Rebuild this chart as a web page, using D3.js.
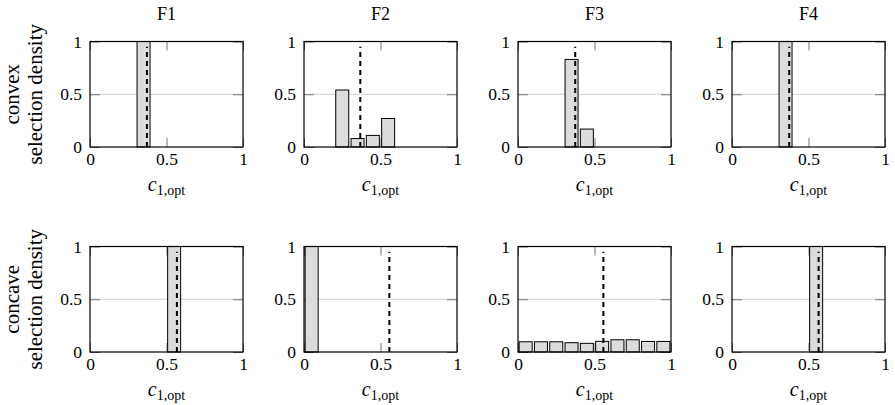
<!DOCTYPE html>
<html lang="en">
<head>
  <meta charset="UTF-8">
  <title>Selection density of c1,opt</title>
  <script src="https://d3js.org/d3.v7.min.js"></script>
  <style>
    body {
      margin: 0;
      background: #fff;
    }
    svg text {
      font-family: "Liberation Serif", "Times New Roman", serif;
      fill: #000;
    }
    .bar {
      fill: #dcdcdc;
      stroke: #000;
      stroke-width: 1;
    }
    .grid {
      stroke: #cfcfcf;
      stroke-width: 1;
    }
    .opt-line {
      stroke: #000;
      stroke-width: 2;
      stroke-dasharray: 5 4;
    }
    .frame {
      fill: none;
      stroke: #000;
      stroke-width: 1.2;
    }
    .tick line {
      stroke: #777;
    }
    .domain {
      display: none;
    }
  </style>
</head>
<body>
  <svg width="895" height="405"></svg>

  <script>
    // Spalten / Zeilen
    const functions = ["F1", "F2", "F3", "F4"];
    const shapes = ["convex", "concave"];

    // Histogramm-Klassen (Mitte), Breite 0.1
    const binCenters = [0.05, 0.15, 0.25, 0.35, 0.45, 0.55, 0.65, 0.75, 0.85, 0.95];

    // convex: Dichte je Klasse
    const convexF1 = [0, 0, 0, 1, 0, 0, 0, 0, 0, 0];
    const convexF2 = [0, 0, 0.54, 0.08, 0.11, 0.27, 0, 0, 0, 0];
    const convexF3 = [0, 0, 0, 0.83, 0.17, 0, 0, 0, 0, 0];
    const convexF4 = [0, 0, 0, 1, 0, 0, 0, 0, 0, 0];

    // concave: Dichte je Klasse
    const concaveF1 = [0, 0, 0, 0, 0, 1, 0, 0, 0, 0];
    const concaveF2 = [1, 0, 0, 0, 0, 0, 0, 0, 0, 0];
    const concaveF3 = [0.097, 0.097, 0.097, 0.088, 0.082, 0.101, 0.116, 0.116, 0.1, 0.1];
    const concaveF4 = [0, 0, 0, 0, 0, 1, 0, 0, 0, 0];

    // gestrichelte Linie: c1,opt
    const convexOpt = [0.372, 0.368, 0.374, 0.374];
    const concaveOpt = [0.568, 0.558, 0.558, 0.566];

    const xTicks = [0, 0.5, 1];
    const yTicks = [0, 0.5, 1];
    const barWidth = 0.085;
    const optTop = 0.95;

    const series = {
      convex: [convexF1, convexF2, convexF3, convexF4],
      concave: [concaveF1, concaveF2, concaveF3, concaveF4]
    };
    const opts = { convex: convexOpt, concave: concaveOpt };

    const svg = d3.select("svg");
    const panelW = 153, panelH = 105.5;
    const lefts = [90, 304, 518, 732];
    const tops = [41.5, 246.5];
    const tickFont = "17.5px";

    const x = d3.scaleLinear().domain([0, 1]).range([0, panelW]);
    const y = d3.scaleLinear().domain([0, 1]).range([panelH, 0]);
    const fmt = d => d === 0.5 ? "0.5" : String(d);

    // Spaltentitel
    functions.forEach((f, j) => {
      svg.append("text")
        .attr("x", lefts[j] + panelW / 2)
        .attr("y", 20)
        .attr("text-anchor", "middle")
        .style("font-size", "18px")
        .text(f);
    });

    shapes.forEach((s, i) => {
      // y-Beschriftung
      const cy = tops[i] + panelH / 2;
      const yl = svg.append("text")
        .attr("transform", `translate(0,${cy}) rotate(-90)`)
        .attr("text-anchor", "middle")
        .style("font-size", "21px");
      yl.append("tspan").attr("x", 0).attr("y", 19).text(s);
      yl.append("tspan").attr("x", 0).attr("y", 42).text("selection density");

      functions.forEach((f, j) => {
        const g = svg.append("g")
          .attr("transform", `translate(${lefts[j]},${tops[i]})`);

        // Gitterlinie 0.5
        g.append("line")
          .attr("class", "grid")
          .attr("x1", 0).attr("x2", panelW)
          .attr("y1", y(0.5)).attr("y2", y(0.5));

        // Achsen (Ticks nach innen)
        g.append("g")
          .attr("transform", `translate(0,${panelH})`)
          .call(d3.axisBottom(x).tickValues(xTicks).tickSize(-9).tickPadding(6).tickFormat(fmt))
          .call(a => a.selectAll("text").style("font-size", tickFont));
        g.append("g")
          .call(d3.axisTop(x).tickValues(xTicks).tickSize(-9).tickFormat(""));
        g.append("g")
          .call(d3.axisLeft(y).tickValues(yTicks).tickSize(-10).tickPadding(8).tickFormat(fmt))
          .call(a => a.selectAll("text").style("font-size", tickFont));
        g.append("g")
          .attr("transform", `translate(${panelW},0)`)
          .call(d3.axisRight(y).tickValues(yTicks).tickSize(-10).tickFormat(""));

        // Balken
        const vals = series[s][j].map((v, k) => ({ c: binCenters[k], v }));
        g.selectAll(".bar")
          .data(vals)
          .join("rect")
          .attr("class", "bar")
          .attr("x", d => x(d.c - barWidth / 2))
          .attr("y", d => y(d.v))
          .attr("width", x(barWidth) - x(0))
          .attr("height", d => y(0) - y(d.v));

        // c1,opt
        g.append("line")
          .attr("class", "opt-line")
          .attr("x1", x(opts[s][j])).attr("x2", x(opts[s][j]))
          .attr("y1", y(0)).attr("y2", y(optTop));

        g.append("rect")
          .attr("class", "frame")
          .attr("width", panelW).attr("height", panelH);

        // x-Beschriftung
        const xl = g.append("text")
          .attr("x", panelW / 2)
          .attr("y", panelH + 44)
          .attr("text-anchor", "middle")
          .style("font-size", "20px");
        xl.append("tspan").style("font-style", "italic").text("c");
        xl.append("tspan").attr("dy", 4).style("font-size", "14px").text("1,opt");
      });
    });
  </script>
</body>
</html>
